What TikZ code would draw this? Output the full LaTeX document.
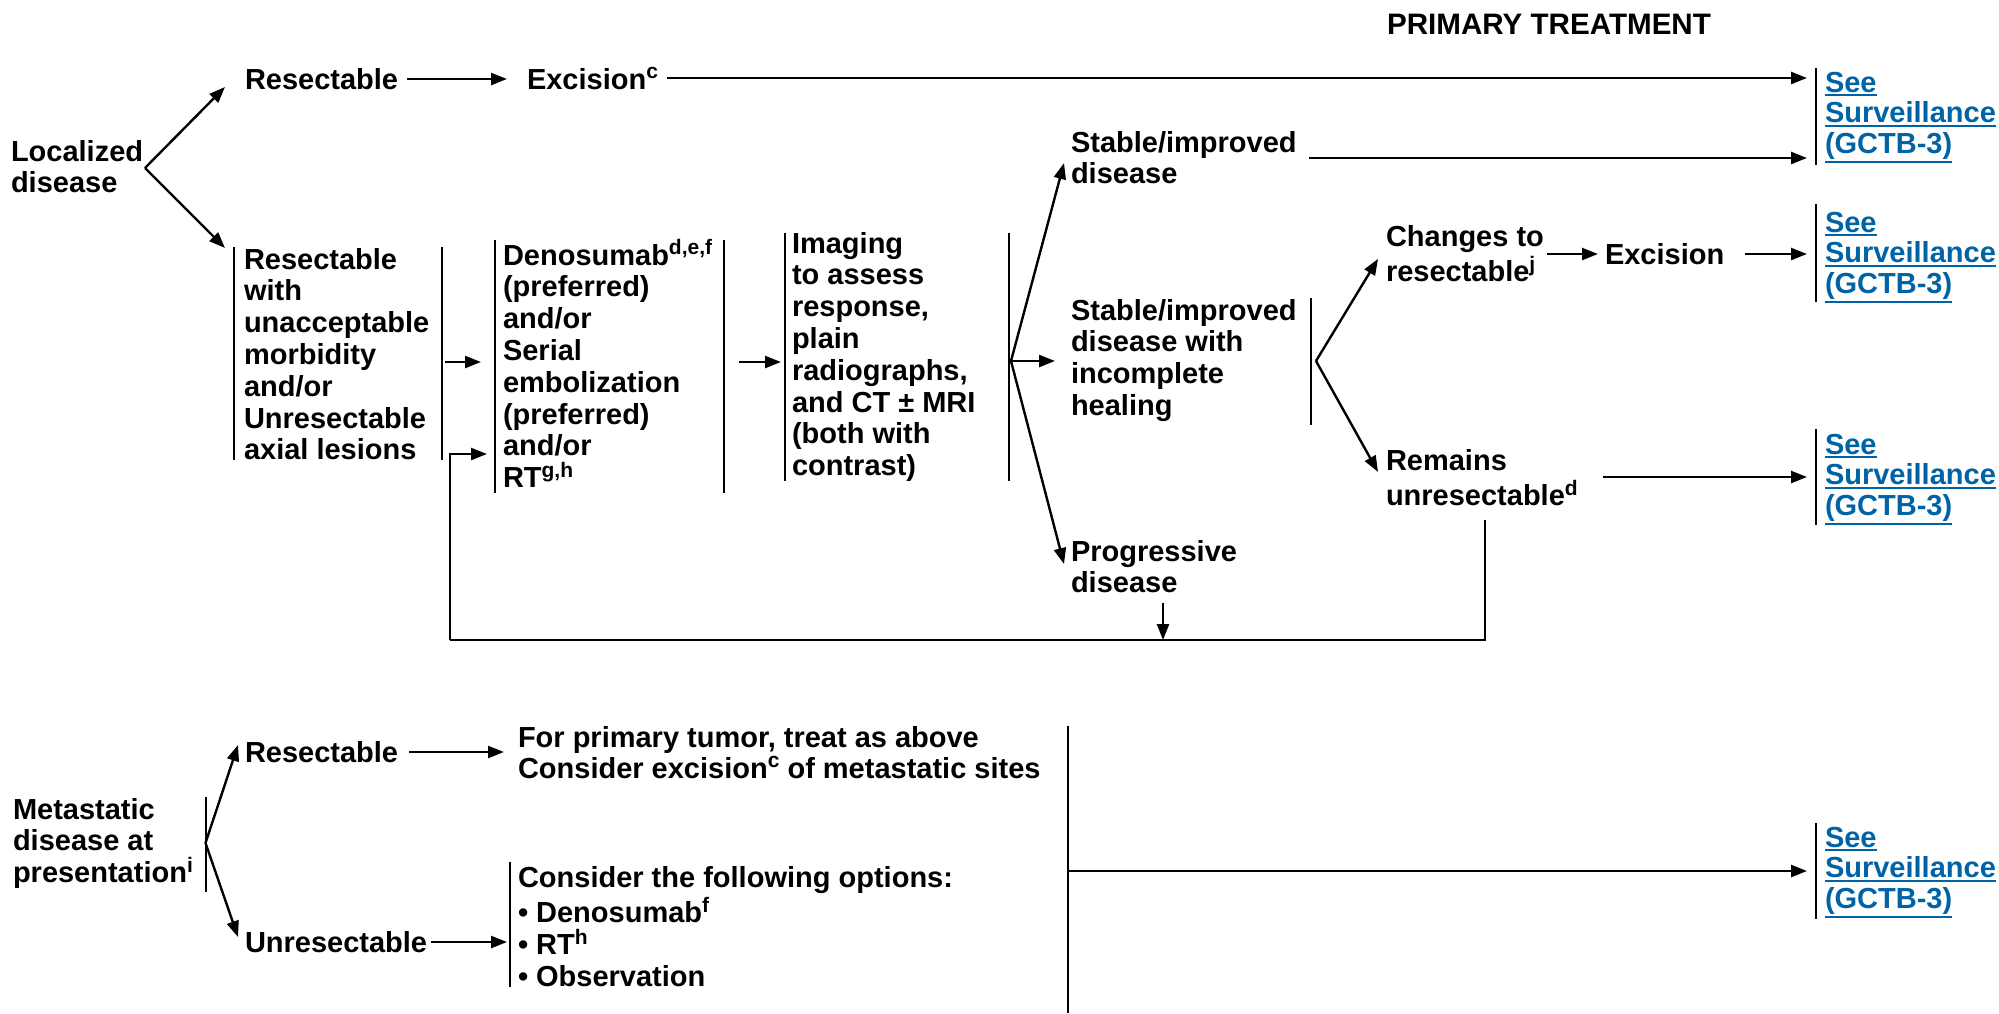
\documentclass[tikz,border=0pt]{standalone}
\usepackage{fontspec}
\setmainfont{Liberation Sans}
\usetikzlibrary{arrows.meta,calc}
\definecolor{linkblue}{RGB}{0,99,166}
% strut for the first line of every text block: 14pt above, 4pt below the baseline
\newcommand{\fs}{\rule[-4pt]{0pt}{18pt}}
% footnote marks
\newcommand{\su}[1]{\raisebox{5.2pt}{\fontsize{10.5pt}{11pt}\selectfont #1}}
% underlined link text
\newcommand{\lk}[1]{\leavevmode\vtop{\hbox{#1}\kern0.9pt\hrule height 1pt}}
\begin{document}
\begin{tikzpicture}[x=0.5pt,y=-0.5pt,
  txt/.style={inner sep=0pt,outer sep=0pt,anchor=north west,align=left,
    font=\fontsize{14.5pt}{15.9pt}\selectfont\bfseries},
  link/.style={txt,text=linkblue,font=\fontsize{14.5pt}{15.25pt}\selectfont\bfseries},
  bar/.style={line width=1pt},
  arr/.style={line width=1.2pt,-{Triangle[length=8pt,width=6pt]}},
  ln/.style={line width=1.2pt}]
\useasboundingbox (0,0) rectangle (1999,1013);

% ---------- heading ----------
\node[txt,font=\fontsize{14.8pt}{16pt}\selectfont\bfseries] (title) at (1387,6) {\fs PRIMARY TREATMENT};

% ---------- localized disease ----------
\node[txt] (loc) at (11,133) {\fs Localized\\disease};
\node[txt] (res1) at (245,61) {\fs Resectable};
\node[txt] (exc1) at (527,61) {\fs Excision\su{c}};
\node[txt] (resw) at (244,241) {\fs Resectable\\with\\unacceptable\\morbidity\\and/or\\Unresectable\\axial lesions};
\node[txt] (deno) at (503,237) {\fs Denosumab\su{d,e,f}\\(preferred)\\and/or\\Serial\\embolization\\(preferred)\\and/or\\RT\su{g,h}};
\node[txt] (img) at (792,225) {\fs Imaging\\to assess\\response,\\plain\\radiographs,\\and CT ± MRI\\(both with\\contrast)};
\node[txt] (stab1) at (1071,124) {\fs Stable/improved\\disease};
\node[txt] (stab2) at (1071,292) {\fs Stable/improved\\disease with\\incomplete\\healing};
\node[txt] (prog) at (1071,533) {\fs Progressive\\disease};
\node[txt] (chg) at (1386,218) {\fs Changes to\\resectable\su{j}};
\node[txt] (exc2) at (1605,236) {\fs Excision};
\node[txt] (rem) at (1386,442) {\fs Remains\\unresectable\su{d}};

\node[link] (surv1) at (1825,64) {\fs\lk{See}\\\lk{Surveillance}\\\lk{(GCTB-3)}};
\node[link] (surv2) at (1825,204) {\fs\lk{See}\\\lk{Surveillance}\\\lk{(GCTB-3)}};
\node[link] (surv3) at (1825,426) {\fs\lk{See}\\\lk{Surveillance}\\\lk{(GCTB-3)}};

% ---------- metastatic disease ----------
\node[txt] (met) at (13,791) {\fs Metastatic\\disease at\\presentation\su{i}};
\node[txt] (res2) at (245,734) {\fs Resectable};
\node[txt,font=\fontsize{14.5pt}{15.5pt}\selectfont\bfseries] (fpt) at (518,719) {\fs For primary tumor, treat as above\\Consider excision\su{c} of metastatic sites};
\node[txt] (unres) at (245,924) {\fs Unresectable};
\node[txt] (opts) at (518,859) {\fs Consider the following options:\\• Denosumab\su{f}\\• RT\su{h}\\• Observation};
\node[link] (surv4) at (1825,819) {\fs\lk{See}\\\lk{Surveillance}\\\lk{(GCTB-3)}};

% ---------- bracket bars ----------
\draw[bar] (234,247) -- (234,460);
\draw[bar] (442,247) -- (442,460);
\draw[bar] (495,240) -- (495,493);
\draw[bar] (724,240) -- (724,493);
\draw[bar] (785,233) -- (785,481);
\draw[bar] (1009,233) -- (1009,481);
\draw[bar] (1311,298) -- (1311,425);
\draw[bar] (1816,68) -- (1816,165);
\draw[bar] (1816,204) -- (1816,302);
\draw[bar] (1816,429) -- (1816,525);
\draw[bar] (205.5,797) -- (205.5,892);
\draw[bar] (510,862) -- (510,987);
\draw[bar] (1068,726) -- (1068,1013);
\draw[bar] (1816,823) -- (1816,919);

% ---------- junction points ----------
\coordinate (a1) at (145,168);
\coordinate (a2) at (1011,361);
\coordinate (a3) at (1316,361);
\coordinate (a4) at (205.5,843);
\coordinate (sv) at (1807,0);
\coordinate (lpR) at (1485,520);
\coordinate (lpL) at (450,640);
\coordinate (lpin) at (487,454);
\coordinate (o1) at (445,362);
\coordinate (o2) at (739,362);
\coordinate (o3) at (1547,254);
\coordinate (o4) at (1603,477);

% ---------- connectors ----------
\draw[arr] (a1) -- ($(res1.west)+(-20,8)$);
\draw[arr] (a1) -- ($(resw.north west)+(-19,7)$);
\draw[arr] ($(res1.east)+(9,0)$) -- ($(exc1.west)+(-20,0)$);
\draw[arr] ($(exc1.east)+(9,-1)$) coordinate (e1) -- (e1 -| sv);
\draw[arr] (1309,158) coordinate (e2) -- (e2 -| sv);
\draw[arr] (o1) -- ($(deno.west |- o1)+(-22,0)$);
\draw[arr] (o2) -- ($(img.west |- o2)+(-11,0)$);
\draw[arr] (a2) -- ($(stab1.west)+(-7,9)$);
\draw[arr] (a2) -- ($(a2 -| stab2.west)+(-16,0)$);
\draw[arr] (a2) -- ($(prog.west)+(-7,1)$);
\draw[arr] (a3) -- ($(chg.west)+(-8,9)$);
\draw[arr] (a3) -- ($(rem.west)+(-8,-2)$);
\draw[arr] (o3) -- ($(exc2.west |- o3)+(-7,0)$);
\draw[arr] ($(exc2.east)+(21,0)$) -- ($(exc2.east -| sv)$);
\draw[arr] (o4) -- (o4 -| sv);
\draw[ln] (lpR) -- (lpR |- lpL) -- (lpL);
\draw[arr] (lpL) |- (lpin);
\draw[arr] ($(prog.south west)+(92,10)$) coordinate (e5) -- (e5 |- lpL);
\draw[arr] (a4) -- ($(res2.west)+(-7,-7)$);
\draw[arr] (a4) -- ($(unres.west)+(-7,-5)$);
\draw[arr] ($(res2.east)+(11,0)$) -- ($(fpt.west |- res2.east)+(-14,0)$);
\draw[arr] ($(unres.east)+(4,0)$) -- ($(opts.west |- unres.east)+(-11,0)$);
\draw[arr] (1068,871) coordinate (e6) -- (e6 -| sv);
\end{tikzpicture}
\end{document}
